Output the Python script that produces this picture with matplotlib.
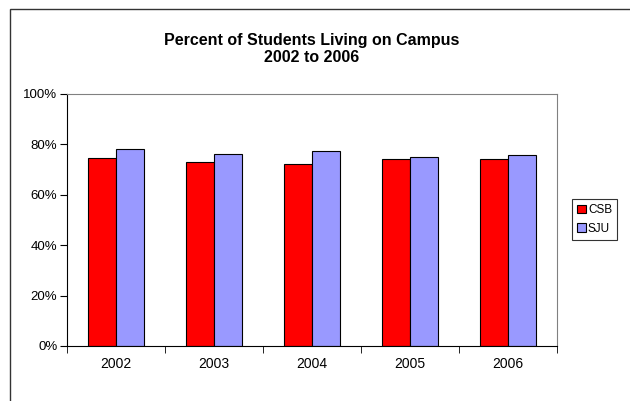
import numpy as np
import matplotlib.pyplot as plt
from matplotlib.patches import Rectangle
from matplotlib.ticker import FuncFormatter

years = ['2002', '2003', '2004', '2005', '2006']
csb = [74.7, 73.1, 72.1, 74.2, 74.4]
sju = [78.1, 76.2, 77.2, 75.0, 75.9]

plt.rcParams['font.family'] = ['Liberation Sans', 'DejaVu Sans']

fig = plt.figure(figsize=(6.3, 4.01), dpi=100)
ax = fig.add_axes([67 / 630, 1 - 346 / 401, 490 / 630, 252 / 401])

# outer chart border (only top/left visible in the picture)
fig.patches.append(Rectangle((9.5 / 630, -0.1), 1.2, 1.1 - 8.5 / 401,
                             transform=fig.transFigure, fill=False,
                             edgecolor='#333333', linewidth=1.0))

x = np.arange(len(years))
w = 1 / 3.5
ax.bar(x - w / 2, csb, w, color='#FF0000', edgecolor='black', linewidth=0.8, label='CSB')
ax.bar(x + w / 2, sju, w, color='#9999FF', edgecolor='black', linewidth=0.8, label='SJU')

ax.set_xlim(-0.5, len(years) - 0.5)
ax.set_ylim(0, 100)
ax.set_yticks(np.arange(0, 101, 20))
ax.yaxis.set_major_formatter(FuncFormatter(lambda v, p: f'{v:.0f}%'))

# category labels centred, ticks on boundaries
ax.set_xticks(x)
ax.set_xticklabels(years)
ax.tick_params(axis='x', length=0, pad=8, labelsize=10)
ax.set_xticks(np.arange(-0.5, len(years)), minor=True)
ax.tick_params(axis='x', which='minor', length=5, direction='out', color='black')
ax.tick_params(axis='y', length=5, direction='out', labelsize=9.5, pad=2)

for s in ['top', 'right']:
    ax.spines[s].set_color('#808080')
for s in ['left', 'bottom']:
    ax.spines[s].set_color('black')

fig.text(312 / 630, 1 - 49 / 401, 'Percent of Students Living on Campus\n2002 to 2006',
         ha='center', va='center', fontsize=11.5, fontweight='bold', linespacing=1.2)

leg = ax.legend(loc='center left', bbox_to_anchor=(572 / 630, 1 - 219.5 / 401),
                bbox_transform=fig.transFigure, frameon=True, fancybox=False,
                fontsize=8.5, handlelength=0.7, handleheight=0.7, handletextpad=0.2,
                borderpad=0.45, labelspacing=0.55, borderaxespad=0)
leg.get_frame().set_edgecolor('black')
leg.get_frame().set_linewidth(0.8)

plt.savefig('out.png', dpi=100)
